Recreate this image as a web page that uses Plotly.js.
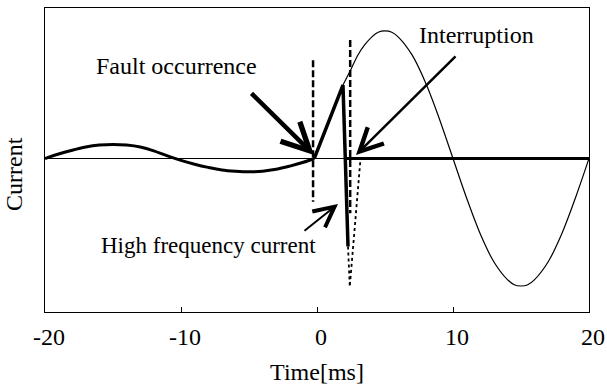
<!DOCTYPE html>
<html>
<head>
<meta charset="utf-8">
<script src="https://cdn.plot.ly/plotly-3.0.1.min.js"></script>
<style>html,body{margin:0;padding:0;background:#fff}#chart{width:607px;height:389px}</style>
</head>
<body>
<div id="chart"></div>
<script>
// Pre-fault load current (heavy)
const preT = [-20,-19,-18,-17,-16,-15,-14,-13,-12,-11,-10,-9,-8,-7,-6,-5,-4,-3,-2,-1,-0.2];
const preI = [0,3.5,6.5,9,10.5,11,10.5,9,6,2,-1.5,-4.5,-7,-9,-10,-10.5,-10,-8.5,-6,-3,0];
// Fault current rise and high-frequency drop (heavy)
const fltT = [-0.2,1.91,2.08,2.28];
const fltI = [0,57.6,0,-69];
// High-frequency continuation (dotted)
const hfT = [2.28,2.41,3.2];
const hfI = [-69,-100.5,0];
// Prospective fault current (thin)
const proT = [1.91,2.5,3,3.5,4,4.5,5,5.5,6,7,8,9,10,11,12,13,14,14.5,15,15.5,16,17,18,19,20];
const proI = [57.6,70,81,89,95,99,100,99,95,81,59,31,0,-31,-59,-81,-95,-99,-100,-99,-95,-81,-59,-31,0];
// Interrupted current (heavy zero)
const postT = [2.0,20];
const postI = [0,0];
// Vertical dashed markers
const dash1T = [-0.29,-0.29], dash1I = [77,-34];
const dash2T = [2.44,2.44], dash2I = [93,-43];
// Tick labels
const tickVals = [-20,-10,0,10,20];
const tickText = ['-20','-10','0','10','20'];

const FONT = 'Liberation Serif';
const FS = 24;
const W = 607, H = 389;
const L = 45, R = 18, T = 8, B = 77;
const XR = [-20,20], YR = [-120.4,118];
// pixel -> data / paper helpers (for annotation placement only)
const tx = px => XR[0] + (px - L) / (W - L - R) * (XR[1] - XR[0]);
const vy = py => YR[1] - (py - T) / (H - T - B) * (YR[1] - YR[0]);
const px2paperX = px => (px - L) / (W - L - R);
const py2paperY = py => (H - B - py) / (H - T - B);

const blk = '#000';
const traces = [
  {x: preT, y: preI, mode: 'lines', line: {color: blk, width: 3, shape: 'spline'}},
  {x: fltT, y: fltI, mode: 'lines', line: {color: blk, width: 3.5}},
  {x: hfT, y: hfI, mode: 'lines', line: {color: blk, width: 1.8, dash: 'dot'}},
  {x: proT, y: proI, mode: 'lines', line: {color: blk, width: 1.2, shape: 'spline'}},
  {x: postT, y: postI, mode: 'lines', line: {color: blk, width: 3}},
  {x: dash1T, y: dash1I, mode: 'lines', line: {color: blk, width: 2.5, dash: '7px,3px'}},
  {x: dash2T, y: dash2I, mode: 'lines', line: {color: blk, width: 2.5, dash: '7px,3px'}}
];

function arrow(x0, y0, x1, y1, w, s) {
  return {x: tx(x1), y: vy(y1), ax: tx(x0), ay: vy(y0), xref: 'x', yref: 'y', axref: 'x', ayref: 'y',
    text: '', showarrow: true, arrowhead: 5, arrowsize: s, arrowwidth: w, arrowcolor: blk, standoff: 0};
}
function label(txt, cx, cy, fs) {
  return {x: tx(cx), y: vy(cy), xref: 'x', yref: 'y', text: txt, showarrow: false,
    font: {family: FONT, size: fs || FS, color: blk}, xanchor: 'center', yanchor: 'middle'};
}

const layout = {
  width: W, height: H,
  margin: {l: L, r: R, t: T, b: B},
  paper_bgcolor: '#fff', plot_bgcolor: '#fff',
  showlegend: false,
  font: {family: FONT, size: FS, color: blk},
  xaxis: {range: XR, tickvals: tickVals, ticktext: tickText, ticks: 'inside', ticklen: 5, tickcolor: blk,
    showline: true, linecolor: blk, linewidth: 1, mirror: true, showgrid: false, zeroline: false,
    tickfont: {family: FONT, size: FS, color: blk}, ticklabelshift: 4, ticklabelstandoff: 3,
    title: {text: 'Time[ms]', font: {family: FONT, size: FS, color: blk}, standoff: 14}},
  yaxis: {range: YR, tickvals: [0], ticks: 'inside', ticklen: 4, tickcolor: blk, showticklabels: false,
    showline: true, linecolor: blk, linewidth: 1, mirror: true, showgrid: false,
    zeroline: true, zerolinecolor: blk, zerolinewidth: 1},
  annotations: [
    label('Fault occurrence', 176, 66),
    arrow(250, 92, 314, 155, 4.5, 1.2),
    label('Interruption', 476, 35),
    arrow(457, 55, 356, 155, 2.5, 1.8),
    label('High frequency current', 208, 245, 23),
    arrow(303, 232, 338, 204, 2, 2),
    {x: px2paperX(14), y: py2paperY(174), xref: 'paper', yref: 'paper', text: 'Current', showarrow: false,
      textangle: -90, font: {family: FONT, size: FS, color: blk}, xanchor: 'center', yanchor: 'middle'}
  ]
};
Plotly.newPlot('chart', traces, layout, {displayModeBar: false, staticPlot: true});
</script>
</body>
</html>
